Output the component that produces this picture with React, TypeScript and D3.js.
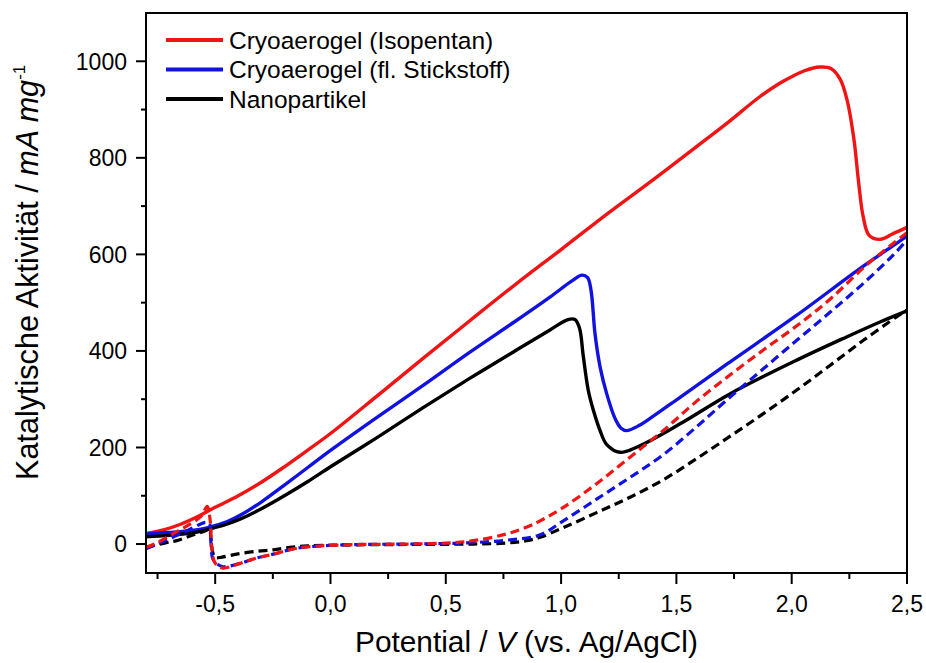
import React from "react";
import * as d3 from "d3";

// Forward scans (solid) — [potential V, activity mA/mg]
const redSolid: [number, number][] = [
  [-0.8, 22], [-0.72, 30], [-0.65, 41], [-0.58, 56], [-0.5, 76], [-0.4, 100], [-0.3, 128],
  [-0.2, 160], [-0.1, 194], [0.0, 229], [0.2, 306], [0.4, 384], [0.6, 461], [0.8, 537],
  [1.0, 610], [1.2, 684], [1.4, 755], [1.6, 828], [1.72, 872], [1.86, 926], [1.95, 955],
  [2.0, 968], [2.06, 981], [2.12, 988], [2.17, 985], [2.21, 963], [2.24, 920], [2.27, 838],
  [2.29, 750], [2.31, 678], [2.335, 640], [2.38, 631], [2.44, 643], [2.5, 656],
];
const blueSolid: [number, number][] = [
  [-0.8, 21], [-0.7, 24], [-0.6, 28], [-0.54, 33], [-0.45, 46], [-0.39, 60], [-0.3, 87],
  [-0.2, 122], [-0.1, 158], [0.0, 194], [0.2, 262], [0.4, 328], [0.6, 396], [0.8, 461],
  [0.95, 511], [1.05, 546], [1.09, 557], [1.115, 552], [1.13, 525], [1.147, 436],
  [1.169, 367], [1.198, 311], [1.234, 260], [1.26, 240], [1.284, 235], [1.34, 246],
  [1.4, 265], [1.516, 304], [1.732, 377], [2.022, 474], [2.3, 572], [2.44, 618], [2.5, 638],
];
const blackSolid: [number, number][] = [
  [-0.8, 15], [-0.7, 18], [-0.6, 23], [-0.54, 29], [-0.45, 41], [-0.39, 52], [-0.3, 73],
  [-0.2, 100], [-0.1, 129], [0.0, 160], [0.2, 220], [0.4, 282], [0.6, 342], [0.8, 400],
  [0.95, 443], [1.03, 465], [1.06, 465], [1.08, 447], [1.096, 390], [1.118, 318],
  [1.14, 277], [1.169, 235], [1.198, 206], [1.256, 190], [1.33, 201], [1.516, 249],
  [1.732, 311], [2.022, 381], [2.238, 429], [2.383, 460], [2.5, 483],
];

// Reverse scans (dashed)
const redDashed: [number, number][] = [
  [-0.8, -7], [-0.75, 3], [-0.68, 22], [-0.62, 38], [-0.56, 58], [-0.535, 78], [-0.522, 50],
  [-0.516, 0], [-0.505, -35], [-0.49, -45], [-0.465, -50], [-0.392, -40], [-0.32, -29],
  [-0.248, -21], [-0.16, -10], [-0.1, -6], [0.04, -2], [0.33, 0], [0.5, 2], [0.62, 7],
  [0.764, 21], [0.865, 38], [0.909, 48], [1.01, 76], [1.154, 125], [1.299, 180],
  [1.443, 235], [1.588, 296], [1.732, 350], [1.877, 402], [2.022, 452], [2.166, 507],
  [2.325, 578], [2.5, 645],
];
const blueDashed: [number, number][] = [
  [-0.8, -10], [-0.75, 0], [-0.68, 15], [-0.62, 28], [-0.56, 42], [-0.54, 45], [-0.525, 42],
  [-0.518, 0], [-0.51, -31], [-0.49, -42], [-0.465, -47], [-0.392, -40], [-0.32, -29],
  [-0.248, -21], [-0.16, -10], [-0.1, -6], [0.04, -2], [0.33, 0], [0.5, 1], [0.62, 3],
  [0.764, 8], [0.909, 19], [1.01, 48], [1.154, 93], [1.299, 138], [1.443, 185],
  [1.588, 243], [1.732, 304], [1.877, 363], [2.022, 422], [2.166, 480], [2.311, 540],
  [2.441, 599], [2.5, 630],
];
const blackDashed: [number, number][] = [
  [-0.8, -7], [-0.72, 2], [-0.667, 7], [-0.6, 18], [-0.54, 28], [-0.526, 32], [-0.518, 10],
  [-0.512, -14], [-0.5, -28], [-0.47, -27], [-0.407, -21], [-0.32, -15], [-0.248, -12],
  [-0.176, -7], [-0.1, -4], [0.04, -2], [0.33, -1], [0.62, 0], [0.764, 2], [0.85, 7],
  [0.909, 14], [1.01, 34], [1.154, 65], [1.299, 97], [1.443, 133], [1.588, 177],
  [1.732, 223], [1.877, 270], [2.022, 319], [2.166, 370], [2.311, 422], [2.456, 471],
  [2.5, 485],
];

const xMajorTicks = [-0.5, 0, 0.5, 1.0, 1.5, 2.0, 2.5];
const xTickLabels = ["-0,5", "0,0", "0,5", "1,0", "1,5", "2,0", "2,5"];
const xMinorTicks = [-0.75, -0.25, 0.25, 0.75, 1.25, 1.75, 2.25];
const yMajorTicks = [0, 200, 400, 600, 800, 1000];
const yTickLabels = ["0", "200", "400", "600", "800", "1000"];
const yMinorTicks = [100, 300, 500, 700, 900];

const legendLabels = ["Cryoaerogel (Isopentan)", "Cryoaerogel (fl. Stickstoff)", "Nanopartikel"];
const seriesColors = ["#f01414", "#1212e0", "#000000"];

export default function App() {
  const W = 926;
  const H = 663;
  const left = 146, right = 907, top = 13, bottom = 573;
  const x = d3.scaleLinear().domain([-0.8, 2.5]).range([left, right]);
  const y = d3.scaleLinear().domain([-60, 1100]).range([bottom, top]);
  const line = d3
    .line<[number, number]>()
    .x((d) => x(d[0]))
    .y((d) => y(d[1]))
    .curve(d3.curveCatmullRom.alpha(0.5));

  const solids = [redSolid, blueSolid, blackSolid];
  const dashed = [blackDashed, blueDashed, redDashed];
  const dashedColors = [seriesColors[2], seriesColors[1], seriesColors[0]];
  const font = "'Liberation Sans', Arial, Helvetica, sans-serif";

  return (
    <svg
      width={W}
      height={H}
      viewBox={`0 0 ${W} ${H}`}
      style={{ position: "absolute", left: 0, top: 0, background: "#fff" }}
      fontFamily={font}
    >
      <defs>
        <clipPath id="plot">
          <rect x={left} y={top} width={right - left} height={bottom - top} />
        </clipPath>
      </defs>
      <g clipPath="url(#plot)">
        {solids.map((s, i) => (
          <path key={"s" + i} d={line(s) || ""} fill="none" stroke={seriesColors[i]} strokeWidth={3.4} strokeLinejoin="round" />
        ))}
        {dashed.map((s, i) => (
          <path key={"d" + i} d={line(s) || ""} fill="none" stroke={dashedColors[i]} strokeWidth={3.2} strokeDasharray="9,5" />
        ))}
      </g>
      {/* frame */}
      <rect x={left} y={top} width={right - left} height={bottom - top} fill="none" stroke="#000" strokeWidth={2} />
      {/* x ticks */}
      {xMajorTicks.map((t, i) => (
        <g key={"xt" + i}>
          <line x1={x(t)} x2={x(t)} y1={bottom} y2={bottom + 11} stroke="#000" strokeWidth={2} />
          <text x={x(t)} y={611.5} fontSize={23} textAnchor="middle">{xTickLabels[i]}</text>
        </g>
      ))}
      {xMinorTicks.map((t, i) => (
        <line key={"xm" + i} x1={x(t)} x2={x(t)} y1={bottom} y2={bottom + 6} stroke="#000" strokeWidth={2} />
      ))}
      {/* y ticks */}
      {yMajorTicks.map((t, i) => (
        <g key={"yt" + i}>
          <line x1={left - 10} x2={left} y1={y(t)} y2={y(t)} stroke="#000" strokeWidth={2} />
          <text x={127} y={y(t)} dy="0.36em" fontSize={23} textAnchor="end">{yTickLabels[i]}</text>
        </g>
      ))}
      {yMinorTicks.map((t, i) => (
        <line key={"ym" + i} x1={left - 5} x2={left} y1={y(t)} y2={y(t)} stroke="#000" strokeWidth={2} />
      ))}
      {/* legend */}
      {legendLabels.map((l, i) => (
        <g key={"lg" + i}>
          <line x1={166} x2={223} y1={40 + i * 29.5} y2={40 + i * 29.5} stroke={seriesColors[i]} strokeWidth={4} />
          <text x={229} y={40 + i * 29.5} dy="0.36em" fontSize={24.5}>{l}</text>
        </g>
      ))}
      {/* axis titles */}
      <text x={(left + right) / 2} y={651.5} fontSize={29.8} textAnchor="middle">
        Potential / <tspan fontStyle="italic">V</tspan> (vs. Ag/AgCl)
      </text>
      <text transform="translate(38,480) rotate(-90)" fontSize={30.6} textAnchor="start">
        Katalytische Aktivität / <tspan fontStyle="italic">mA mg</tspan>
        <tspan dy={-13} fontSize={17}>-1</tspan>
      </text>
    </svg>
  );
}
